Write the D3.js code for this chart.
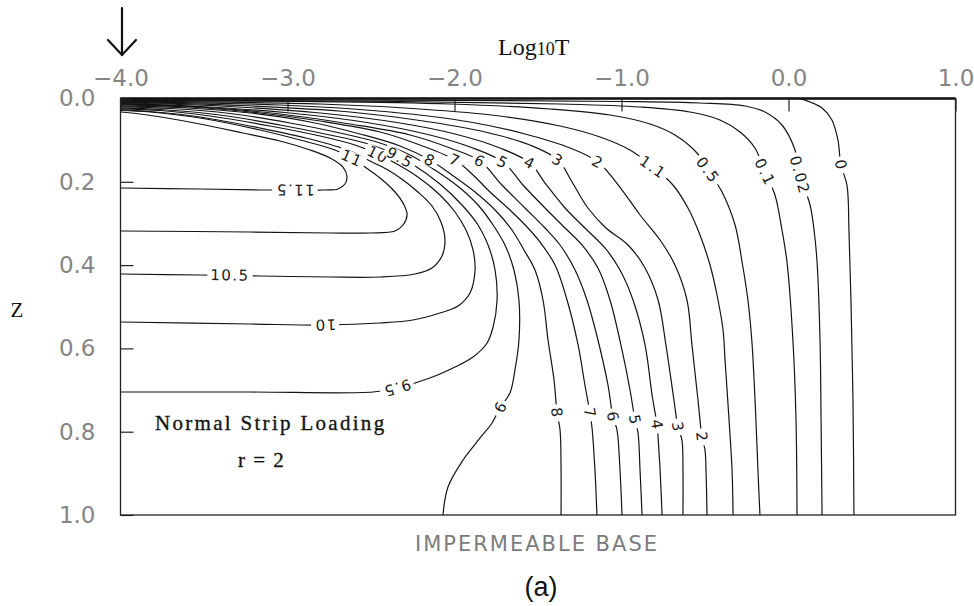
<!DOCTYPE html>
<html>
<head>
<meta charset="utf-8">
<script src="https://cdn.jsdelivr.net/npm/d3@7"></script>
<style>
  html, body { margin: 0; padding: 0; background: #fff; }
  svg { display: block; }
</style>
</head>
<body>
<svg id="chart" width="974" height="606"></svg>
<script>
// Axis ticks
const timeTicks = [-4, -3, -2, -1, 0, 1];
const depthTicks = [0, 0.2, 0.4, 0.6, 0.8, 1.0];

// Contour lines of excess pore pressure; each point is [log10 T, z]
const line11_5 = [[-4,0.0324],[-3.883,0.0372],[-3.722,0.0468],[-3.524,0.0612],[-3.266,0.0828],[-3.045,0.102],[-2.865,0.1236],[-2.745,0.1429],[-2.668,0.1645],[-2.644,0.1861],[-2.656,0.2053],[-2.698,0.2173],[-2.775,0.2197],[-2.925,0.2197],[-3.165,0.2197],[-3.524,0.2173],[-4,0.2149]];
const line11 = [[-4,0.0288],[-3.823,0.0324],[-3.524,0.0468],[-3.165,0.0756],[-2.925,0.0996],[-2.716,0.1236],[-2.614,0.1429],[-2.536,0.1645],[-2.446,0.1909],[-2.356,0.2245],[-2.302,0.2557],[-2.284,0.2797],[-2.308,0.3037],[-2.356,0.3181],[-2.506,0.3229],[-2.745,0.3229],[-3.225,0.3205],[-4,0.3181]];
const line10_5 = [[-4,0.4214],[-3.524,0.4238],[-3.165,0.4262],[-2.745,0.4286],[-2.446,0.4286],[-2.237,0.4214],[-2.135,0.407],[-2.075,0.3782],[-2.057,0.3397],[-2.081,0.2965],[-2.135,0.2581],[-2.219,0.2245],[-2.308,0.1957],[-2.398,0.1717],[-2.494,0.1525],[-2.626,0.126],[-2.865,0.0972],[-3.165,0.0708],[-3.524,0.0444],[-3.823,0.0312],[-4,0.0271]];
const line10 = [[-4,0.0247],[-3.763,0.0288],[-3.464,0.042],[-3.105,0.066],[-2.805,0.09],[-2.596,0.1116],[-2.476,0.1309],[-2.356,0.1549],[-2.219,0.1885],[-2.087,0.2317],[-1.997,0.2725],[-1.931,0.3157],[-1.889,0.3637],[-1.877,0.4118],[-1.907,0.467],[-1.979,0.4982],[-2.087,0.515],[-2.249,0.5318],[-2.446,0.539],[-2.775,0.5438],[-3.225,0.5414],[-4,0.5366]];
const line9_5 = [[-4,0.0223],[-3.763,0.0264],[-3.404,0.0396],[-3.045,0.0636],[-2.745,0.0876],[-2.536,0.1068],[-2.386,0.1285],[-2.254,0.1573],[-2.087,0.2053],[-1.955,0.2557],[-1.859,0.3037],[-1.799,0.3517],[-1.757,0.4118],[-1.745,0.4838],[-1.769,0.5486],[-1.805,0.587],[-1.889,0.6207],[-1.997,0.6447],[-2.147,0.6711],[-2.344,0.6951],[-2.488,0.7047],[-3.225,0.7047],[-4,0.7047]];
const line9 = [[-4,0.0199],[-3.704,0.024],[-3.344,0.036],[-2.985,0.0588],[-2.686,0.0828],[-2.446,0.1068],[-2.266,0.1357],[-2.117,0.1717],[-1.967,0.2149],[-1.859,0.2557],[-1.769,0.3037],[-1.698,0.3517],[-1.644,0.4118],[-1.614,0.4838],[-1.614,0.5798],[-1.638,0.6519],[-1.668,0.7071],[-1.728,0.7431],[-1.775,0.7791],[-1.847,0.8151],[-1.949,0.868],[-2.039,0.9328],[-2.069,1.0]];
const line8 = [[-4,0.0175],[-3.644,0.0216],[-3.225,0.0348],[-2.865,0.0564],[-2.566,0.0852],[-2.326,0.114],[-2.147,0.1477],[-2.015,0.1837],[-1.877,0.2245],[-1.757,0.2677],[-1.656,0.3157],[-1.584,0.3637],[-1.518,0.4118],[-1.47,0.4838],[-1.44,0.5798],[-1.404,0.6759],[-1.386,0.7551],[-1.368,0.7959],[-1.362,0.892],[-1.362,1.0]];
const line7 = [[-4,0.0151],[-3.584,0.0204],[-3.165,0.0348],[-2.805,0.054],[-2.446,0.0804],[-2.207,0.1116],[-1.997,0.1477],[-1.895,0.1813],[-1.787,0.2245],[-1.668,0.2677],[-1.56,0.3109],[-1.488,0.3445],[-1.398,0.3998],[-1.326,0.4838],[-1.26,0.5918],[-1.219,0.6879],[-1.189,0.7551],[-1.177,0.7887],[-1.159,0.892],[-1.147,1.0]];
const line6 = [[-4,0.0137],[-3.524,0.0204],[-3.045,0.0372],[-2.626,0.0612],[-2.266,0.0876],[-2.027,0.1188],[-1.847,0.1501],[-1.716,0.2077],[-1.578,0.2629],[-1.458,0.3109],[-1.368,0.3517],[-1.278,0.4118],[-1.207,0.4838],[-1.141,0.5798],[-1.081,0.6879],[-1.051,0.7647],[-1.027,0.7959],[-1.009,0.892],[-0.997,1.0]];
const line5 = [[-4,0.0122],[-3.524,0.0192],[-2.985,0.0348],[-2.506,0.0588],[-2.147,0.0876],[-1.907,0.1164],[-1.71,0.1525],[-1.59,0.2077],[-1.458,0.2629],[-1.338,0.3109],[-1.237,0.3517],[-1.141,0.407],[-1.069,0.4838],[-0.997,0.6038],[-0.949,0.6999],[-0.919,0.7719],[-0.901,0.8031],[-0.889,0.892],[-0.877,1.0]];
const line4 = [[-4,0.0108],[-3.404,0.018],[-2.805,0.0348],[-2.326,0.0588],[-1.997,0.0852],[-1.728,0.1188],[-1.548,0.1549],[-1.458,0.2029],[-1.338,0.2629],[-1.219,0.3109],[-1.099,0.3589],[-1.009,0.4118],[-0.931,0.4838],[-0.859,0.5918],[-0.817,0.7119],[-0.787,0.7839],[-0.781,0.8127],[-0.769,0.892],[-0.757,1.0]];
const line3 = [[-4,0.0094],[-3.284,0.0168],[-2.626,0.0324],[-2.147,0.0564],[-1.817,0.0804],[-1.548,0.1116],[-1.38,0.1477],[-1.296,0.2005],[-1.201,0.2629],[-1.093,0.3109],[-0.961,0.3517],[-0.859,0.407],[-0.781,0.4838],[-0.734,0.5918],[-0.686,0.7239],[-0.662,0.7887],[-0.638,0.8199],[-0.632,0.892],[-0.632,1.0]];
const line2 = [[-4,0.0079],[-3.045,0.0156],[-2.386,0.0324],[-1.907,0.0564],[-1.578,0.0852],[-1.308,0.1188],[-1.141,0.1525],[-0.997,0.2197],[-0.889,0.2797],[-0.769,0.3397],[-0.68,0.3998],[-0.608,0.4838],[-0.578,0.5918],[-0.542,0.7239],[-0.518,0.8127],[-0.5,0.8439],[-0.494,0.892],[-0.488,1.0]];
const line1_1 = [[-4,0.0065],[-2.805,0.0132],[-2.207,0.0252],[-1.728,0.042],[-1.368,0.066],[-1.129,0.0924],[-0.949,0.1236],[-0.811,0.1645],[-0.692,0.2077],[-0.602,0.2629],[-0.53,0.3277],[-0.47,0.3998],[-0.428,0.4718],[-0.392,0.5558],[-0.38,0.6279],[-0.356,0.7719],[-0.338,0.892],[-0.332,1.0]];
const line0_5 = [[-4,0.005],[-2.925,0.0072],[-2.027,0.0132],[-1.428,0.0252],[-1.069,0.0396],[-0.829,0.0612],[-0.68,0.0876],[-0.548,0.1309],[-0.482,0.1717],[-0.398,0.2245],[-0.32,0.3037],[-0.278,0.3926],[-0.243,0.4838],[-0.219,0.5846],[-0.195,0.7719],[-0.183,0.892],[-0.171,1.0]];
const line0_1 = [[-4,0.0038],[-2.326,0.0072],[-1.368,0.0132],[-0.889,0.0204],[-0.59,0.0324],[-0.41,0.0516],[-0.29,0.0804],[-0.201,0.1188],[-0.141,0.1765],[-0.081,0.2317],[-0.039,0.3157],[-0.009,0.3926],[0.027,0.5846],[0.045,0.7719],[0.051,1.0]];
const line0_02 = [[-4,0.0026],[-2.027,0.0043],[-1.009,0.0072],[-0.53,0.0108],[-0.26,0.018],[-0.141,0.0324],[-0.039,0.0636],[0.039,0.1236],[0.069,0.1837],[0.129,0.2557],[0.153,0.3157],[0.171,0.3926],[0.189,0.5846],[0.195,0.7719],[0.201,1.0]];
const line0 = [[0.069,0.0],[0.129,0.0084],[0.201,0.0228],[0.26,0.0516],[0.296,0.0996],[0.314,0.1597],[0.35,0.2077],[0.362,0.3157],[0.374,0.4838],[0.386,0.7239],[0.392,1.0]];

// Where each contour carries its value: [level, log10 T, z]
const labelSpots = [
  [11.5, -2.955, 0.2197],
  [11, -2.614, 0.1429],
  [10.5, -3.344, 0.4238],
  [10, -2.775, 0.5438],
  [10, -2.458, 0.1345],
  [9.5, -2.344, 0.6951],
  [9.5, -2.326, 0.1417],
  [9, -1.728, 0.7431],
  [8, -2.147, 0.1477],
  [8, -1.386, 0.7551],
  [7, -1.997, 0.1477],
  [7, -1.189, 0.7551],
  [6, -1.847, 0.1501],
  [6, -1.051, 0.7647],
  [5, -1.71, 0.1525],
  [5, -0.919, 0.7719],
  [4, -1.548, 0.1549],
  [4, -0.787, 0.7839],
  [3, -1.38, 0.1477],
  [3, -0.662, 0.7887],
  [2, -1.141, 0.1525],
  [2, -0.518, 0.8127],
  [1.1, -0.811, 0.1645],
  [0.5, -0.482, 0.1717],
  [0.1, -0.141, 0.1765],
  [0.02, 0.069, 0.1837],
  [0, 0.314, 0.1597]
];

const contourLines = [
  [11.5, line11_5], [11, line11], [10.5, line10_5], [10, line10], [9.5, line9_5],
  [9, line9], [8, line8], [7, line7], [6, line6], [5, line5], [4, line4],
  [3, line3], [2, line2], [1.1, line1_1], [0.5, line0_5], [0.1, line0_1],
  [0.02, line0_02], [0, line0]
];

const svg = d3.select("#chart");
const x = d3.scaleLinear().domain([-4, 1]).range([120.5, 955.5]);
const y = d3.scaleLinear().domain([0, 1]).range([98.5, 515]);

const tickFont = "'DejaVu Sans', 'Liberation Sans', sans-serif";

// Clip the contours to the plotting frame
svg.append("defs").append("clipPath").attr("id", "frame")
  .append("rect")
  .attr("x", x(-4)).attr("y", y(0))
  .attr("width", x(1) - x(-4)).attr("height", y(1) - y(0));

const curve = d3.line()
  .x(d => x(d[0]))
  .y(d => y(d[1]))
  .curve(d3.curveCatmullRom.alpha(0.5));

const plot = svg.append("g").attr("clip-path", "url(#frame)");
plot.selectAll("path.contour")
  .data(contourLines)
  .join("path")
  .attr("class", "contour")
  .attr("d", d => curve(d[1]))
  .attr("fill", "none")
  .attr("stroke", "#141414")
  .attr("stroke-width", 1.2);

// Contour values, rotated along the local direction of their line
function labelAngle(level, t, z) {
  const pts = contourLines.find(c => c[0] === level)[1].map(p => [x(p[0]), y(p[1])]);
  const px = x(t), py = y(z);
  let best = 0, bestD = Infinity;
  for (let i = 0; i < pts.length - 1; i++) {
    const [ax, ay] = pts[i], [bx, by] = pts[i + 1];
    const dx = bx - ax, dy = by - ay;
    const len2 = dx * dx + dy * dy || 1;
    let u = ((px - ax) * dx + (py - ay) * dy) / len2;
    u = Math.max(0, Math.min(1, u));
    const qx = ax + u * dx - px, qy = ay + u * dy - py;
    const d = qx * qx + qy * qy;
    if (d < bestD) { bestD = d; best = i; }
  }
  const a = pts[Math.max(0, best - 1)], b = pts[Math.min(pts.length - 1, best + 2)];
  const a2 = pts[best], b2 = pts[best + 1];
  const ang1 = Math.atan2(b2[1] - a2[1], b2[0] - a2[0]);
  const ang2 = Math.atan2(b[1] - a[1], b[0] - a[0]);
  return Math.atan2(Math.sin(ang1) + Math.sin(ang2), Math.cos(ang1) + Math.cos(ang2)) * 180 / Math.PI;
}

const labels = svg.append("g").selectAll("g.clabel")
  .data(labelSpots)
  .join("g")
  .attr("class", "clabel")
  .attr("transform", d => `translate(${x(d[1])},${y(d[2])}) rotate(${labelAngle(d[0], d[1], d[2])})`);

// a white gap in the line under each value
labels.append("rect").attr("fill", "#fff");
labels.append("text")
  .attr("text-anchor", "middle")
  .attr("dy", "0.36em")
  .attr("font-family", tickFont)
  .attr("font-size", 15)
  .attr("letter-spacing", 1.5)
  .attr("fill", "#1c1c1c")
  .text(d => String(d[0]));
labels.each(function() {
  const g = d3.select(this);
  const w = g.select("text").node().getComputedTextLength();
  g.select("rect")
    .attr("x", -w / 2 - 3).attr("y", -6)
    .attr("width", w + 6).attr("height", 12);
});

// Frame
svg.append("rect")
  .attr("x", x(-4)).attr("y", y(0))
  .attr("width", x(1) - x(-4)).attr("height", y(1) - y(0))
  .attr("fill", "none").attr("stroke", "#222").attr("stroke-width", 1.3);
svg.append("line")
  .attr("x1", x(-4)).attr("x2", x(1))
  .attr("y1", y(0)).attr("y2", y(0))
  .attr("stroke", "#111").attr("stroke-width", 2.6);

// Axes with inward ticks
const fmt = d3.format(".1f");
const topAxis = svg.append("g")
  .attr("transform", `translate(0,${y(0)})`)
  .call(d3.axisTop(x).tickValues(timeTicks).tickSize(-13).tickPadding(13).tickFormat(fmt));
const leftAxis = svg.append("g")
  .attr("transform", `translate(${x(-4)},0)`)
  .call(d3.axisLeft(y).tickValues(depthTicks).tickSize(-13).tickPadding(25).tickFormat(fmt));

[topAxis, leftAxis].forEach(g => {
  g.select(".domain").remove();
  g.selectAll(".tick line").attr("stroke", "#222").attr("stroke-width", 1.2);
  g.selectAll(".tick text")
    .attr("font-family", tickFont)
    .attr("font-size", 23)
    .attr("fill", "#858585");
});

// Axis titles
const title = svg.append("text")
  .attr("x", 498).attr("y", 55)
  .attr("font-family", "'Liberation Serif', 'DejaVu Serif', serif")
  .attr("font-size", 24)
  .attr("fill", "#111");
title.append("tspan").text("Log");
title.append("tspan").attr("font-size", 18).text("10");
title.append("tspan").text("T");

svg.append("text")
  .attr("x", 17).attr("y", 317)
  .attr("text-anchor", "middle")
  .attr("font-family", "'Liberation Serif', 'DejaVu Serif', serif")
  .attr("font-size", 21)
  .attr("fill", "#111")
  .text("Z");

svg.append("text")
  .attr("x", (x(-4) + x(1)) / 2 - 1).attr("y", 551)
  .attr("text-anchor", "middle")
  .attr("font-family", tickFont)
  .attr("font-size", 21)
  .attr("letter-spacing", 2)
  .attr("fill", "#7c7c7c")
  .text("IMPERMEABLE BASE");

// Case annotation
const noteFont = "'Liberation Serif', 'DejaVu Serif', serif";
svg.append("text")
  .attr("x", 155).attr("y", 430)
  .attr("font-family", noteFont)
  .attr("font-size", 21)
  .attr("letter-spacing", 2.3)
  .attr("fill", "#151515")
  .attr("stroke", "#151515").attr("stroke-width", 0.35)
  .text("Normal Strip Loading");
svg.append("text")
  .attr("x", 238).attr("y", 467)
  .attr("font-family", noteFont)
  .attr("font-size", 21)
  .attr("letter-spacing", 1.5)
  .attr("fill", "#151515")
  .attr("stroke", "#151515").attr("stroke-width", 0.35)
  .text("r = 2");

// Panel tag
svg.append("text")
  .attr("x", 541).attr("y", 596)
  .attr("text-anchor", "middle")
  .attr("font-family", "'Liberation Sans', Arial, sans-serif")
  .attr("font-size", 27)
  .attr("fill", "#111")
  .text("(a)");

// Arrow marking the start of the time axis
const arrow = svg.append("g")
  .attr("stroke", "#111").attr("stroke-width", 2.2).attr("fill", "none")
  .attr("stroke-linecap", "round");
arrow.append("line").attr("x1", x(-4) + 1.5).attr("x2", x(-4) + 1.5).attr("y1", 8).attr("y2", 55);
arrow.append("polyline")
  .attr("points", `${x(-4) - 12.5},40 ${x(-4) + 1.5},55 ${x(-4) + 15.5},40`);
</script>
</body>
</html>
